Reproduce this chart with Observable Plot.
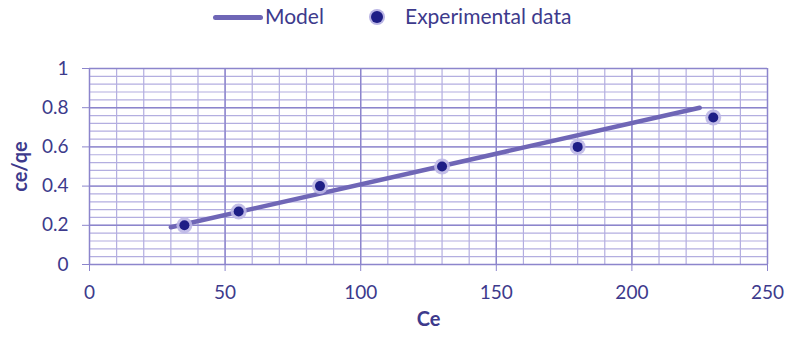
<!DOCTYPE html>
<html><head><meta charset="utf-8">
<script src="https://cdn.jsdelivr.net/npm/d3@7"></script>
<script src="https://cdn.jsdelivr.net/npm/@observablehq/plot@0.6"></script>
<style>
body{margin:0;background:#fff;font-family:Lato,sans-serif;}
#legend{position:relative;height:40px;width:787px;color:#3d3a8c;font-size:21px;}
#legend .sw{position:absolute;left:213px;top:15px;width:50px;height:5px;background:#6f66b6;border-radius:3px;}
#legend .t1{position:absolute;left:265px;top:3px;}
#legend .dot{position:absolute;left:371px;top:11px;width:12px;height:12px;border-radius:50%;background:#1e1e86;box-shadow:0 0 0 2px #b9b4e4;}
#legend .t2{position:absolute;left:405px;top:3px;}
</style></head><body>
<div id="legend"><div class="sw"></div><span class="t1">Model</span><div class="dot"></div><span class="t2">Experimental data</span></div>
<div id="chart"></div>
<script>
const ceValues = [35, 55, 85, 130, 180, 230];
const ratioValues = [0.20, 0.27, 0.40, 0.50, 0.60, 0.75];
const modelCe = [30, 225];
const modelRatio = [0.19, 0.80];
const xTicks = [0, 50, 100, 150, 200, 250];
const yTicks = [0, 0.2, 0.4, 0.6, 0.8, 1];

const points = ceValues.map((c, i) => ({x: c, y: ratioValues[i]}));
const model = modelCe.map((c, i) => ({x: c, y: modelRatio[i]}));
const minorX = d3.range(0, 251, 10);
const minorY = d3.range(0, 1.0001, 0.04);

const txt = "#3d3a8c";
const fmt = d => String(+d.toFixed(2));
const plot = Plot.plot({
  width: 787, height: 298,
  marginLeft: 89, marginRight: 20, marginTop: 28, marginBottom: 74,
  style: {fontFamily: "Lato, sans-serif", fontSize: "19px", color: txt, background: "white"},
  x: {domain: [0, 250], label: null},
  y: {domain: [0, 1], label: null},
  marks: [
    Plot.ruleX(minorX, {stroke: "#b3aee0", strokeWidth: 1.2}),
    Plot.ruleY(minorY, {stroke: "#b3aee0", strokeWidth: 1.2}),
    Plot.ruleX(xTicks, {stroke: "#8c85cc", strokeWidth: 1.4}),
    Plot.ruleY(yTicks, {stroke: "#8c85cc", strokeWidth: 1.4}),
    Plot.axisX({ticks: xTicks, tickSize: 7, stroke: "#8c85cc", tickPadding: 14, label: null, fill: txt, tickFormat: fmt, fontSize: 19}),
    Plot.axisY({ticks: yTicks, tickSize: 7, stroke: "#8c85cc", tickPadding: 14, label: null, fill: txt, tickFormat: fmt, fontSize: 19}),
    Plot.line(model, {x: "x", y: "y", stroke: "#6f66b6", strokeWidth: 4.5, strokeLinecap: "round"}),
    Plot.dot(points, {x: "x", y: "y", r: 8, fill: "#bcb7e6", fillOpacity: 0.9}),
    Plot.dot(points, {x: "x", y: "y", r: 5, fill: "#1e1e86"}),
    Plot.text(["Ce"], {frameAnchor: "bottom", dx: 0, dy: 61, fill: txt, fontWeight: "bold", fontSize: 20}),
    Plot.text(["ce/qe"], {frameAnchor: "left", textAnchor: "middle", dx: -69, dy: 0, rotate: -90, fill: txt, fontWeight: "bold", fontSize: 20})
  ]
});
document.getElementById("chart").appendChild(plot);
</script>
</body></html>
